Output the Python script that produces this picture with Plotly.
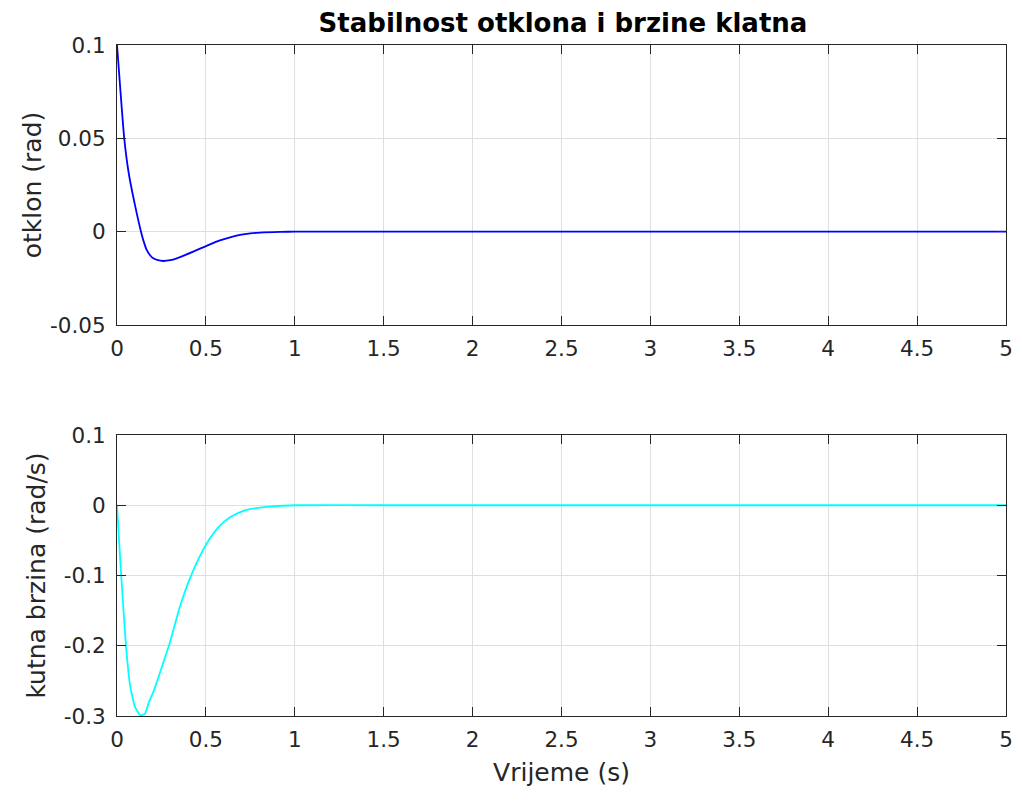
import plotly.graph_objects as go
from plotly.subplots import make_subplots

# Data
t_otklon = [0, 0.019, 0.041, 0.066, 0.103, 0.135, 0.15, 0.167, 0.185, 0.204,
            0.23, 0.26, 0.30, 0.336, 0.429, 0.523, 0.579, 0.636, 0.692, 0.75,
            0.804, 0.917, 1.0, 1.5, 2.0, 3.0, 4.0, 5.0]
otklon = [0.1, 0.0759, 0.0497, 0.0313, 0.0134, 0.0, -0.0052, -0.0098, -0.0125,
          -0.0143, -0.0153, -0.0157, -0.0153, -0.0143, -0.0107, -0.0068,
          -0.0047, -0.0030, -0.0017, -0.0009, -0.0005, -0.0001, 0.0, 0.0, 0.0,
          0.0, 0.0, 0.0]

t_brzina = [0, 0.024, 0.051, 0.075, 0.101, 0.131, 0.157, 0.18, 0.21, 0.25,
            0.298, 0.354, 0.41, 0.467, 0.523, 0.579, 0.636, 0.70, 0.748,
            0.842, 0.935, 1.0, 1.5, 2.0, 3.0, 4.0, 5.0]
brzina = [0.0, -0.102, -0.2017, -0.259, -0.287, -0.299, -0.297, -0.28, -0.262,
          -0.232, -0.195, -0.144, -0.104, -0.072, -0.047, -0.029, -0.017,
          -0.009, -0.0055, -0.0022, -0.0007, 0.0, 0.0, 0.0, 0.0, 0.0, 0.0]

x_ticks = [0, 0.5, 1, 1.5, 2, 2.5, 3, 3.5, 4, 4.5, 5]
x_ticktext = ["0", "0.5", "1", "1.5", "2", "2.5", "3", "3.5", "4", "4.5", "5"]
y1_ticks = [-0.05, 0, 0.05, 0.1]
y1_ticktext = ["-0.05", "0", "0.05", "0.1"]
y2_ticks = [-0.3, -0.2, -0.1, 0, 0.1]
y2_ticktext = ["-0.3", "-0.2", "-0.1", "0", "0.1"]

title_text = "Stabilnost otklona i brzine klatna"
y1_title = "otklon (rad)"
y2_title = "kutna brzina (rad/s)"
x_title = "Vrijeme (s)"

fig = make_subplots(rows=2, cols=1, vertical_spacing=0.0)

fig.add_trace(go.Scatter(x=t_otklon, y=otklon, mode="lines",
                         line=dict(color="rgb(0,0,255)", width=1.8, shape="spline", smoothing=0.6),
                         showlegend=False, hoverinfo="skip"), row=1, col=1)
fig.add_trace(go.Scatter(x=t_brzina, y=brzina, mode="lines",
                         line=dict(color="rgb(0,255,255)", width=1.8, shape="spline", smoothing=0.4),
                         showlegend=False, hoverinfo="skip"), row=2, col=1)

ink = "#262626"
font = "DejaVu Sans"
tick_font = dict(family=font, size=21.5, color=ink)
label_font = dict(family=font, size=25, color=ink)

common_x = dict(range=[0, 5], tickvals=x_ticks, ticktext=x_ticktext,
                showline=True, linecolor=ink, linewidth=1, mirror="ticks",
                ticks="inside", ticklen=9, tickcolor=ink, tickwidth=1,
                showgrid=True, gridcolor="rgb(223,223,223)", gridwidth=1,
                zeroline=False, tickfont=tick_font, ticklabelstandoff=4,
                automargin=False)
common_y = dict(showline=True, linecolor=ink, linewidth=1, mirror="ticks",
                ticks="inside", ticklen=9, tickcolor=ink, tickwidth=1,
                showgrid=True, gridcolor="rgb(223,223,223)", gridwidth=1,
                zeroline=False, tickfont=tick_font, ticklabelstandoff=6,
                automargin=False)

fig.update_xaxes(**common_x)
fig.update_yaxes(**common_y)

fig.update_layout(
    width=1019, height=792,
    paper_bgcolor="white", plot_bgcolor="white",
    margin=dict(l=117, r=13, t=45, b=76),
    title=dict(text="<b>" + title_text + "</b>", x=0.5525, xanchor="center",
               y=0.9710, yanchor="middle",
               font=dict(family=font, size=26, color="black")),
    xaxis=dict(domain=[0, 1]),
    yaxis=dict(domain=[0.5827, 1.0], range=[-0.05, 0.1],
               tickvals=y1_ticks, ticktext=y1_ticktext,
               title=dict(text=y1_title, standoff=1, font=label_font)),
    xaxis2=dict(domain=[0, 1],
                title=dict(text=x_title, standoff=12, font=label_font)),
    yaxis2=dict(domain=[0.0, 0.4188], range=[-0.3, 0.1],
                tickvals=y2_ticks, ticktext=y2_ticktext,
                title=dict(text=y2_title, standoff=10, font=label_font)),
)

fig.write_html("out.html",
               config={"displayModeBar": False, "responsive": False},
               post_script="document.body.style.margin='0';document.body.style.overflow='hidden';")
